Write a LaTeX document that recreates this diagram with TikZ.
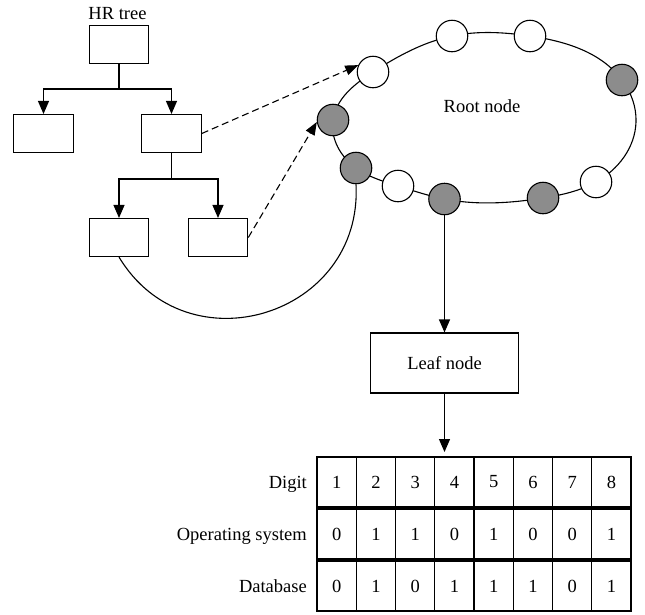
\documentclass[tikz,border=0pt]{standalone}
\usepackage{fontspec}
\setmainfont{Liberation Serif}
\usetikzlibrary{arrows.meta,calc,hobby}
\definecolor{nodegray}{RGB}{140,140,140}
\begin{document}
\begin{tikzpicture}[x=1pt,y=-1pt,
  every node/.style={font=\fontsize{18.5}{22}\selectfont},
  line/.style={line width=1.1pt, draw=black},
  arr/.style={line width=1.1pt, draw=black, -{Triangle[length=13pt,width=11pt]}},
  dsh/.style={line width=1.1pt, draw=black, dash pattern=on 7pt off 4pt, -{Triangle[length=13pt,width=10pt]}},
  tbox/.style={draw, line width=1.1pt, minimum width=59.5pt, minimum height=38pt, inner sep=0pt},
  ring/.style={circle, draw, line width=1.1pt, minimum size=31.5pt, inner sep=0pt},
  wring/.style={ring, fill=white},
  gring/.style={ring, fill=nodegray},
  cell/.style={draw, line width=1.1pt, minimum width=39.25pt, minimum height=50pt, inner sep=0pt, anchor=center},
  lbl/.style={anchor=base east, inner sep=0pt}]
\useasboundingbox (0,0) rectangle (645,614);

% ---- HR tree ----
\node (hr) at (117.5,13.3) {HR tree};
\node[tbox] (top) at (119,44.5) {};
\node[tbox] (left) at (43.5,133.5) {};
\node[tbox] (mid) at (171.5,133.5) {};
\node[tbox] (bl) at (119,237.5) {};
\node[tbox] (br) at (218,237.5) {};
\coordinate (j1) at (119,89);
\coordinate (j2) at (171.5,179);
\draw[line] (top.south) -- (j1);
\draw[arr] (j1) -| (left.north);
\draw[arr] (j1) -| (mid.north);
\draw[line] (mid.south) -- (j2);
\draw[arr] (j2) -| (bl.north);
\draw[arr] (j2) -| (br.north);

% ---- root ring ----
\coordinate (p1) at (333,120);
\coordinate (p2) at (373,72);
\coordinate (p3) at (452,36);
\coordinate (p4) at (530,36);
\coordinate (p5) at (622,80);
\coordinate (rx) at (636,122);
\coordinate (p6) at (596,182);
\coordinate (p7) at (543,198);
\coordinate (p8) at (444.5,199);
\coordinate (p9) at (398,186);
\coordinate (p10) at (356,168);
\draw[line, use Hobby shortcut, closed=true]
  (p1) .. (p2) .. (p3) .. (p4) .. (p5) .. (rx) .. (p6) .. (p7) .. (p8) .. (p9) .. (p10);
\node[gring] (g1) at (p1) {};
\node[wring] (w1) at (p2) {};
\node[wring] (w2) at (p3) {};
\node[wring] (w3) at (p4) {};
\node[gring] (g3) at (p5) {};
\node[wring] (w4) at (p6) {};
\node[gring] (g4) at (p7) {};
\node[gring] (g5) at (p8) {};
\node[wring] (w5) at (p9) {};
\node[gring] (g2) at (p10) {};
\node (rootlbl) at (482,106) {Root node};

% ---- links tree -> ring ----
\draw[dsh] (mid.east) -- (w1.155);
\draw[dsh] (br.east) -- (g1.187);
\draw[line] (bl.south) .. controls (187,370) and (363,316) .. (g2.south);

% ---- leaf ----
\node[draw, line width=1.1pt, minimum width=148pt, minimum height=60pt] (leaf) at (444.5,363) {Leaf node};
\draw[arr] (g5.south) -- (leaf.north);
\coordinate (tt) at (444.5,452);
\draw[arr] (leaf.south) -- (tt);

% ---- table ----
\foreach \v [count=\c] in {1,2,3,4,5,6,7,8}
  \node[cell] (a\c) at ({317+39.25*(\c-0.5)},482) {\v};
\foreach \v [count=\c] in {0,1,1,0,1,0,0,1}
  \node[cell] (b\c) at ({317+39.25*(\c-0.5)},534) {\v};
\foreach \v [count=\c] in {0,1,0,1,1,1,0,1}
  \node[cell] (d\c) at ({317+39.25*(\c-0.5)},586) {\v};
\node[lbl] (ldigit) at (307,488) {Digit};
\node[lbl] (los) at (307,540) {Operating system};
\node[lbl] (ldb) at (307,592) {Database};
\end{tikzpicture}
\end{document}
